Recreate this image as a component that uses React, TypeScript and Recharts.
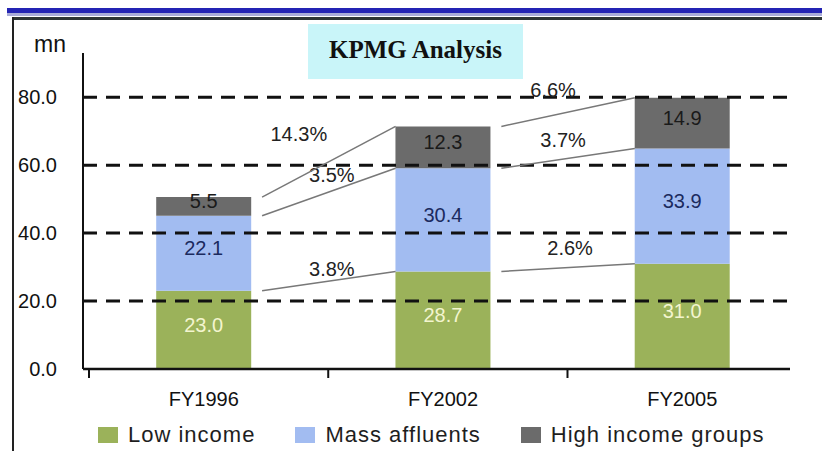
import React from "react";
import {
  BarChart,
  Bar,
  XAxis,
  YAxis,
  Legend,
  LabelList,
  ReferenceLine,
} from "recharts";

// values (mn households)
const categories = ["FY1996", "FY2002", "FY2005"];
const lowIncome = [23.0, 28.7, 31.0];
const massAffluents = [22.1, 30.4, 33.9];
const highIncome = [5.5, 12.3, 14.9];

// growth labels between consecutive years
const lowGrowth = ["3.8%", "2.6%"];
const massGrowth = ["3.5%", "3.7%"];
const highGrowth = ["14.3%", "6.6%"];

const yTicks = [0, 20, 40, 60, 80];
const gridValues = [20, 40, 60, 80];

const FONT = "'Liberation Sans', Arial, sans-serif";
const GREEN = "#9bb25a";
const BLUE = "#a2bcf1";
const GRAY = "#6b6b6b";

const BAR_PX = 95;
const UNIT_PX = 239.3; // px per category step on the numeric axis
const HALF_BAR = BAR_PX / 2 / UNIT_PX;
const GAP = 0.045;
const CENTER = 0.48;
const X_DOMAIN = [-0.025, 2.93];

const rows = categories.map((name, i) => ({
  name,
  pos: i + CENTER,
  low: lowIncome[i],
  mass: massAffluents[i],
  high: highIncome[i],
}));

const series = [
  { key: "low", name: "Low income", color: GREEN, text: "#f3f5cf", growth: lowGrowth },
  { key: "mass", name: "Mass affluents", color: BLUE, text: "#1b2a5e", growth: massGrowth },
  { key: "high", name: "High income groups", color: GRAY, text: "#1a1a1a", growth: highGrowth },
];

// label offsets from the middle of each connector, px
const nudges: Record<string, [number, number][]> = {
  low: [[3, -12], [2, -20]],
  mass: [[3, -17], [-5, -18]],
  high: [[-30, -28], [-15, -22]],
};

const tops = (k: number) =>
  rows.map((r) => [r.low, r.mass, r.high].slice(0, k + 1).reduce((a, b) => a + b, 0));

const segLabel = (color: string) => (p: any) => {
  const vb = p.viewBox ?? p;
  const x = vb.x + vb.width / 2;
  const y = vb.y + vb.height / 2 - 5;
  return (
    <text
      x={x}
      y={y}
      textAnchor="middle"
      dominantBaseline="central"
      fontSize={20}
      fontFamily={FONT}
      fill={color}
    >
      {p.value.toFixed(1)}
    </text>
  );
};

const growthLabel = (text: string, dx: number, dy: number) => (p: any) => {
  const vb = p.viewBox;
  return (
    <text
      x={vb.x + vb.width / 2 + dx}
      y={vb.y + vb.height / 2 + dy}
      textAnchor="middle"
      dominantBaseline="central"
      fontSize={20}
      fontFamily={FONT}
      fill="#222"
    >
      {text}
    </text>
  );
};

const renderLegend = () => (
  <div
    style={{
      display: "flex",
      alignItems: "center",
      height: 24,
      paddingLeft: 98,
      fontFamily: FONT,
      fontSize: 22,
      letterSpacing: 1,
      color: "#1e1e1e",
    }}
  >
    {series.map((s) => (
      <div key={s.key} style={{ display: "flex", alignItems: "center", marginRight: 40 }}>
        <span style={{ width: 20, height: 16, background: s.color, marginRight: 10 }} />
        <span>{s.name}</span>
      </div>
    ))}
  </div>
);

export default function App() {
  return (
    <div
      style={{
        position: "absolute",
        left: 0,
        top: 0,
        width: 822,
        height: 451,
        background: "#fff",
        overflow: "hidden",
      }}
    >
      {/* slide header band and frame */}
      <div style={{ position: "absolute", left: 7, top: 8, width: 815, height: 5, background: "#2424b4" }} />
      <div style={{ position: "absolute", left: 7, top: 13, width: 815, height: 3, background: "#a9acd9" }} />
      <div style={{ position: "absolute", left: 12, top: 17, width: 810, height: 3, background: "#2e3535" }} />
      <div style={{ position: "absolute", left: 12, top: 17, width: 2, height: 434, background: "#222" }} />
      <div
        style={{
          position: "absolute",
          left: 308,
          top: 24,
          width: 215,
          height: 55,
          background: "#c9f5f9",
        }}
      />
      <div
        style={{
          position: "absolute",
          left: 308,
          top: 36,
          width: 215,
          textAlign: "center",
          fontFamily: "'Liberation Serif', 'Times New Roman', serif",
          fontWeight: "bold",
          fontSize: 25,
          color: "#111",
        }}
      >
        KPMG Analysis
      </div>
      <div
        style={{
          position: "absolute",
          left: 34,
          top: 31,
          fontFamily: FONT,
          fontSize: 23,
          color: "#111",
        }}
      >
        mn
      </div>

      <div style={{ position: "absolute", left: 0, top: 0 }}>
        <BarChart
          width={822}
          height={451}
          data={rows}
          margin={{ top: 53, right: 32, left: 20, bottom: 18 }}
        >
          <XAxis
            xAxisId="b"
            type="number"
            dataKey="pos"
            domain={X_DOMAIN}
            allowDataOverflow
            ticks={rows.map((r) => r.pos)}
            interval={0}
            tickFormatter={(v: number) => categories[Math.floor(v)] ?? ""}
            tick={{ fill: "#111", fontSize: 20, fontFamily: FONT }}
            tickSize={0}
            tickMargin={13}
            tickLine={false}
            axisLine={false}
            height={30}
          />
          <XAxis
            xAxisId="a"
            type="number"
            dataKey="pos"
            domain={X_DOMAIN}
            allowDataOverflow
            ticks={[0, 1, 2]}
            interval={0}
            tickFormatter={() => ""}
            tick={{ fontSize: 1 }}
            tickSize={9}
            tickLine={{ stroke: "#111", strokeWidth: 2 }}
            axisLine={{ stroke: "#111", strokeWidth: 2.5 }}
            height={10}
          />
          <YAxis
            domain={[0, 93]}
            ticks={yTicks}
            interval={0}
            tickFormatter={(v: number) => v.toFixed(1)}
            tick={{ fill: "#111", fontSize: 20, fontFamily: FONT }}
            tickLine={false}
            tickMargin={20}
            axisLine={{ stroke: "#111", strokeWidth: 2 }}
            width={63}
          />
          <Legend
            verticalAlign="bottom"
            content={renderLegend}
            wrapperStyle={{ left: 0, bottom: 4, width: 822, height: 24 }}
          />
          {series.map((s) => (
            <Bar
              key={s.key}
              xAxisId="a"
              dataKey={s.key}
              name={s.name}
              stackId="a"
              fill={s.color}
              barSize={BAR_PX}
              isAnimationActive={false}
            >
              <LabelList dataKey={s.key} content={segLabel(s.text)} />
            </Bar>
          ))}
          {gridValues.map((v) => (
            <ReferenceLine
              key={`g${v}`}
              xAxisId="a"
              y={v}
              stroke="#111"
              strokeWidth={3}
              strokeDasharray="14 9"
            />
          ))}
          {series.flatMap((s, k) => {
            const t = tops(k);
            return s.growth.map((g, i) => (
              <ReferenceLine
                key={`${s.key}${i}`}
                xAxisId="a"
                segment={[
                  { x: rows[i].pos + HALF_BAR + GAP, y: t[i] },
                  { x: rows[i + 1].pos - HALF_BAR, y: t[i + 1] },
                ]}
                stroke="#787878"
                strokeWidth={1.5}
                ifOverflow="visible"
                label={growthLabel(g, nudges[s.key][i][0], nudges[s.key][i][1])}
              />
            ));
          })}
        </BarChart>
      </div>
    </div>
  );
}
